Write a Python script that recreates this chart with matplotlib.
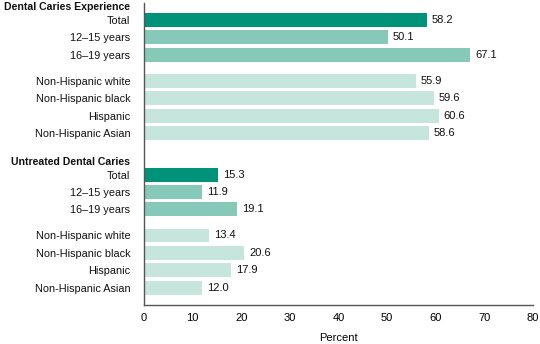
import matplotlib.pyplot as plt
import numpy as np

plt.rcParams['font.family'] = ['Liberation Sans', 'DejaVu Sans']

groups = ['Dental Caries Experience', 'Untreated Dental Caries']
labels = ['Total', '12\u201315 years', '16\u201319 years',
          'Non-Hispanic white', 'Non-Hispanic black', 'Hispanic', 'Non-Hispanic Asian']
experience = [58.2, 50.1, 67.1, 55.9, 59.6, 60.6, 58.6]
untreated = [15.3, 11.9, 19.1, 13.4, 20.6, 17.9, 12.0]

dark = '#00937a'
mid = '#87c9b9'
light = '#c5e5dd'
colors = [dark, mid, mid, light, light, light, light]

# row offsets inside one group (gap after age rows)
rows = np.array([0, 1, 2, 3.5, 4.5, 5.5, 6.5])
starts = [0, 8.9]

fig = plt.figure(figsize=(5.4, 3.44), dpi=100)
ax = fig.add_axes([0.2667, 0.1134, 0.7203, 0.878])

ticks = []
ticklabels = []
for g, vals, s in zip(groups, [experience, untreated], starts):
    y = rows + s
    ax.barh(y, vals, height=0.8, color=colors)
    for yy, v in zip(y, vals):
        ax.text(v + 1.0, yy, f'{v:.1f}', va='center', ha='left', fontsize=8, color='#111111')
    ticks.append(s - 0.8)
    ticklabels.append(g)
    ticks.extend(y)
    ticklabels.extend(labels)

ax.set_yticks(ticks)
ax.set_yticklabels(ticklabels, fontsize=7.8, color='#111111')
for t in ax.get_yticklabels():
    if t.get_text() in groups:
        t.set_fontweight('bold')
        t.set_fontsize(7.6)
ax.tick_params(axis='y', length=0, pad=10)
ax.tick_params(axis='x', length=0, pad=6, labelsize=8)

ax.set_xlim(0, 80)
ax.set_xticks(np.arange(0, 81, 10))
ax.set_ylim(16.4, -0.98)
ax.set_xlabel('Percent', fontsize=8, labelpad=7)

for side in ['top', 'right']:
    ax.spines[side].set_visible(False)
for side in ['left', 'bottom']:
    ax.spines[side].set_color('#555555')
    ax.spines[side].set_linewidth(1.0)

fig.savefig('out.png', dpi=100)
